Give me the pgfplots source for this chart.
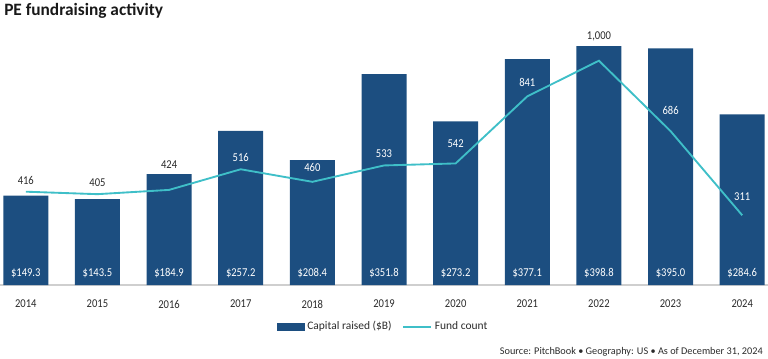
\documentclass[border=0pt]{standalone}
\usepackage{pgfplots}
\pgfplotsset{compat=1.18}
\usepackage{fontspec}
\setmainfont{Carlito}
\newfontfamily\cond[FakeStretch=0.88]{Carlito}
\definecolor{barblue}{HTML}{1C4E80}
\definecolor{fundteal}{HTML}{3FBFC8}
\definecolor{labelgray}{HTML}{2B2B2B}
\definecolor{basegray}{HTML}{CFCFCF}
\begin{document}
\begin{tikzpicture}
\path[use as bounding box] (0pt,0pt) rectangle (576pt,268.5pt);
% left axis: bars
\begin{axis}[
  at={(0pt,54.75pt)}, anchor=south west,
  scale only axis, width=576pt, height=191.25pt,
  xmin=-0.36, xmax=10.36, ymin=0, ymax=425.6,
  clip=false,
  axis x line*=bottom, axis y line=none,
  x axis line style={draw=basegray, line width=0.8pt, -},
  xtick={0,1,2,3,4,5,6,7,8,9,10},
  xticklabels={2014,2015,2016,2017,2018,2019,2020,2021,2022,2023,2024},
  major tick length=0pt,
  xticklabel style={anchor=center, yshift=-14.25pt, font=\cond\fontsize{9}{10}\selectfont, text=labelgray},
  /pgf/number format/assume math mode=true,
]
\addplot[ybar, bar width=33.75pt, fill=barblue, draw=none] coordinates {
  (0,149.3) (1,143.5) (2,184.9) (3,257.2) (4,208.4) (5,351.8)
  (6,273.2) (7,377.1) (8,398.8) (9,395.0) (10,284.6)};
\addplot[draw=none, mark=none, point meta=explicit,
  nodes near coords={\$\pgfmathprintnumber[fixed,fixed zerofill,precision=1]{\pgfplotspointmeta}},
  every node near coord/.style={anchor=center, yshift=9pt, text=white, font=\cond\fontsize{9}{10}\selectfont}]
  coordinates {
  (0,0) [149.3] (1,0) [143.5] (2,0) [184.9] (3,0) [257.2] (4,0) [208.4] (5,0) [351.8]
  (6,0) [273.2] (7,0) [377.1] (8,0) [398.8] (9,0) [395.0] (10,0) [284.6]};
\end{axis}
% right axis: fund count
\begin{axis}[
  at={(0pt,54.75pt)}, anchor=south west,
  scale only axis, width=576pt, height=191.25pt,
  xmin=-0.36, xmax=10.36, ymin=0, ymax=1136.9,
  clip=false,
  hide x axis, hide y axis,
  /pgf/number format/assume math mode=true,
  legend style={at={(0.4993,-0.1635)}, anchor=center, draw=none, fill=none,
    font=\fontsize{8.6}{9}\selectfont, text=labelgray,
    /tikz/every even column/.append style={column sep=6pt},
    inner sep=0pt},
  legend columns=2,
]
\addlegendimage{legend image code/.code={\fill[barblue] (0pt,-2.6pt) rectangle (20.5pt,2.6pt);}}
\addlegendentry{Capital raised (\$B)}
\addplot[fundteal, line width=1.4pt, mark=none,
  legend image code/.code={\draw[fundteal, line width=1.4pt] (0pt,0pt) -- (21pt,0pt);}]
  coordinates {
  (0,416) (1,405) (2,424) (3,516) (4,460) (5,533)
  (6,542) (7,841) (8,1000) (9,686) (10,311)};
\addlegendentry{Fund count}
% fund count labels, dark (above bars)
\addplot[forget plot, draw=none, mark=none, point meta=explicit,
  nodes near coords,
  every node near coord/.style={anchor=center, text=labelgray, font=\cond\fontsize{9}{10}\selectfont}]
  coordinates {(0,468) [416] (1,456) [405] (2,539) [424] (8,1110) [1000]};
% fund count labels, white (inside bars)
\addplot[forget plot, draw=none, mark=none, point meta=explicit,
  nodes near coords,
  every node near coord/.style={anchor=center, text=white, font=\cond\fontsize{9}{10}\selectfont}]
  coordinates {(3,568) [516] (4,523) [460] (5,585) [533] (6,629) [542]
  (7,902) [841] (9,777) [686] (10,394) [311]};
\end{axis}
\node[anchor=west, inner sep=0pt, font=\bfseries\fontsize{13}{15}\selectfont, text=black!90] at (3pt,260.25pt) {PE fundraising activity};
\node[anchor=east, inner sep=0pt, font=\fontsize{7.7}{9}\selectfont, text=labelgray] at (572.25pt,4.7pt) {Source: PitchBook \textbullet{} Geography: US \textbullet{} As of December 31, 2024};
\end{tikzpicture}
\end{document}
